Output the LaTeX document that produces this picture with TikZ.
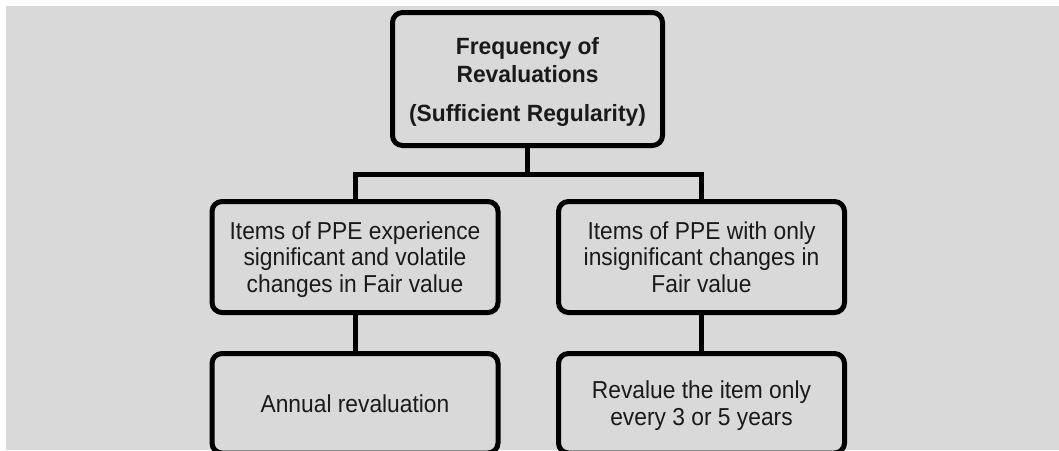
\documentclass[tikz,border=0pt]{standalone}
\usepackage{fontspec}
\setmainfont[FakeStretch=0.93,
  BoldFont={Liberation Sans Bold}, BoldFeatures={FakeStretch=0.97}]{Liberation Sans}
\definecolor{bg}{HTML}{D9D9D9}
\definecolor{txt}{HTML}{1A1A1A}
\begin{document}
\begin{tikzpicture}[x=1pt,y=-1pt,
  box/.style={draw=black, line width=5pt, rounded corners=10pt, fill=bg,
    align=center, inner sep=0pt, text=txt, text depth=0pt},
  midbox/.style={box, minimum width=286pt, minimum height=111pt,
    font=\fontsize{24.5}{26.5}\selectfont},
  lowbox/.style={box, minimum width=286pt, minimum height=99.5pt,
    font=\fontsize{24.5}{26.5}\selectfont},
  link/.style={draw=black, line width=5pt},
]
\useasboundingbox (0,0) rectangle (1059,450);
\clip (0,0) rectangle (1059,450);
\fill[bg] (6,6) rectangle (1059,450);

% root
\node[box, minimum width=270pt, minimum height=133pt,
  font=\bfseries\fontsize{23.5}{28}\selectfont] (root) at (527.5,79)
  {Frequency of\\Revaluations\\[11pt](Sufficient Regularity)};

% second level
\node[midbox] (ml) at (355,257)
  {Items of PPE experience\\significant and volatile\\changes in Fair value};
\node[midbox] (mr) at (701.5,257)
  {Items of PPE with only\\insignificant changes in\\Fair value};

% third level
\node[lowbox] (bl) at (355,403.25) {Annual revaluation};
\node[lowbox] (br) at (701.5,403.25)
  {Revalue the item only\\every 3 or 5 years};

% connectors
\coordinate (bus) at (0,174.5);
\draw[link] (root.south) -- (root.south |- bus);
\draw[link] (ml.north) -- (ml.north |- bus) -- (mr.north |- bus) -- (mr.north);
\draw[link] (ml.south) -- (bl.north);
\draw[link] (mr.south) -- (br.north);
\end{tikzpicture}
\end{document}
